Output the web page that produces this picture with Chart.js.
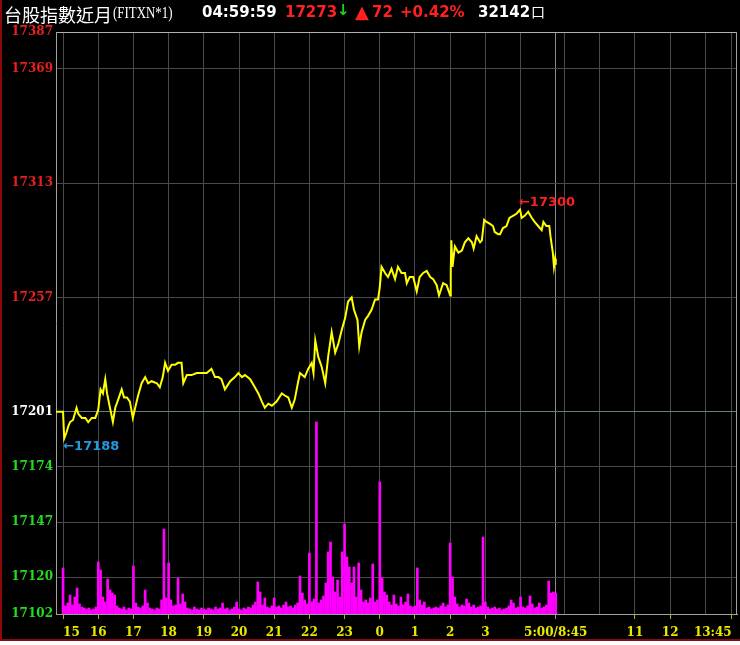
<!DOCTYPE html>
<html>
<head>
<meta charset="utf-8">
<script src="https://cdn.jsdelivr.net/npm/chart.js@4.4.0/dist/chart.umd.min.js"></script>
<style>
body{margin:0;background:#fff;}
#wrap{position:relative;width:740px;height:641px;background:#000;overflow:hidden;}
#wrap span{position:absolute;top:1px;line-height:22px;white-space:nowrap;}
.b{font:bold 15px "DejaVu Sans";}
.red{color:#ff2020;}
.wht{color:#fff;}
#bl{position:absolute;left:0;top:0;width:2px;height:641px;background:#8b0a0a;}
#bb{position:absolute;left:0;top:639px;width:740px;height:2px;background:#8b0a0a;}
</style>
</head>
<body>
<div id="wrap">
  <canvas id="myChart" width="740" height="640" style="position:absolute;left:0;top:0"></canvas>
  <span class="wht" style="left:4px;font:18px 'Noto Sans CJK TC'">台股指數近月</span>
  <span class="wht" style="left:113px;top:2px;font:17px/22px 'Liberation Serif';display:inline-block;transform:scaleX(.76);transform-origin:left">(FITXN*1)</span>
  <span class="b wht" style="left:202px">04:59:59</span>
  <span class="b red" style="left:285px">17273</span>
  <span style="left:337px;font:bold 15px 'DejaVu Sans';color:#1ed21e">↓</span>
  <span class="red" style="left:355px;font:18px 'DejaVu Sans'">▲</span>
  <span class="b red" style="left:372px">72</span>
  <span class="b red" style="left:400px">+0.42%</span>
  <span class="b wht" style="left:478px">32142</span>
  <span class="wht" style="left:531px;font:14px 'Noto Sans CJK TC'">口</span>
  <div id="bl"></div>
  <div id="bb"></div>
</div>
<script>
// minutes counted from 15:00 (night session), day session continues from 840 (= 5:00 / 8:45)
const priceMinutes = [-12,0,2,6,9,12,17,23,26,32,38,43,49,55,60,64,68,72,75,80,85,89,94,100,104,109,114,119,123,128,134,140,145,151,160,165,170,174,179,185,191,196,202,205,211,219,228,236,245,253,259,265,270,276,285,293,299,305,310,319,327,333,339,344,350,356,364,373,378,384,390,395,401,404,412,418,424,427,430,435,441,447,452,458,464,469,475,481,486,492,496,502,505,509,515,520,526,532,537,540,543,549,554,560,566,571,577,583,586,591,597,603,608,614,620,626,631,637,641,648,654,660,661,662,664,668,674,680,685,691,697,700,705,711,714,718,722,728,733,736,742,745,750,756,761,767,773,779,782,787,793,799,804,810,816,819,824,829,831,835,837,839,840]
const priceValues = [17201,17201,17188,17191,17194,17196,17197,17203,17200,17198,17198,17196,17198,17198,17202,17212,17210,17217,17210,17203,17196,17203,17207,17212,17208,17208,17206,17198,17203,17209,17215,17218,17215,17216,17215,17213,17218,17225,17221,17224,17224,17225,17225,17215,17219,17219,17220,17220,17220,17222,17218,17218,17217,17212,17216,17218,17220,17218,17219,17217,17213,17210,17206,17203,17205,17204,17206,17210,17209,17208,17203,17207,17216,17220,17218,17222,17225,17220,17236,17228,17223,17215,17228,17240,17230,17234,17241,17247,17255,17257,17251,17246,17233,17240,17246,17248,17251,17256,17256,17262,17272,17269,17267,17271,17266,17272,17269,17269,17264,17267,17267,17260,17267,17269,17270,17267,17266,17263,17258,17264,17263,17258,17270,17285,17272,17282,17279,17280,17284,17286,17284,17281,17287,17284,17285,17295,17294,17293,17292,17289,17288,17288,17291,17292,17296,17297,17298,17300,17296,17297,17299,17296,17294,17292,17290,17294,17292,17292,17287,17279,17272,17276,17273]

// contracts per 4-minute bar
const volumes = [230,40,55,95,45,85,130,50,35,30,
  25,30,20,25,35,260,220,85,60,175,
  120,105,95,40,30,25,35,20,30,25,
  240,55,35,30,40,120,55,30,25,20,
  30,25,70,425,80,255,70,40,45,180,
  50,100,60,30,25,20,35,25,20,30,
  25,20,30,25,20,35,25,30,55,25,
  30,20,25,35,60,25,20,30,25,35,
  30,45,60,160,110,45,80,35,30,40,
  80,35,40,30,45,60,35,40,30,45,
  55,190,105,70,50,305,60,75,960,55,
  70,90,155,310,360,185,110,170,85,310,
  450,285,235,155,235,85,255,120,60,70,
  55,80,250,60,70,660,180,110,95,60,
  45,95,50,40,85,45,60,100,40,35,
  40,230,70,45,60,30,35,25,30,35,
  30,40,55,35,45,355,185,85,50,35,
  45,40,75,55,35,45,30,35,40,385,
  60,35,25,30,35,25,30,20,25,30,
  40,70,55,30,35,85,35,30,40,90,
  50,30,35,55,30,35,45,165,105,110,105]
const volStep = 4

const refPrice = 17201
const yTicks = [17387,17369,17313,17257,17201,17174,17147,17120,17102]
const xTickMinutes = [0,60,120,180,240,300,360,420,480,540,600,660,720,780,840,855,915,975,1035,1095,1140]
const xTickLabels = ['15','16','17','18','19','20','21','22','23','0','1','2','3','','5:00/8:45','','','11','12','','13:45']

var extremes = {
    id: 'extremes',
    afterDatasetsDraw(chart){
        let ctx = chart.ctx
        let x = chart.scales.x, y = chart.scales.y
        let hi = 0, lo = 0
        for(let i=0;i<priceValues.length;i++){
            if(priceValues[i] > priceValues[hi]) hi = i
            if(priceValues[i] < priceValues[lo]) lo = i
        }
        ctx.save()
        ctx.font = 'bold 13px "DejaVu Sans"'
        ctx.textBaseline = 'middle'
        ctx.fillStyle = '#ff2020'
        ctx.fillText('←' + priceValues[hi], x.getPixelForValue(priceMinutes[hi]) - 1, y.getPixelForValue(priceValues[hi]) - 7)
        ctx.fillStyle = '#2299e0'
        ctx.fillText('←' + priceValues[lo], x.getPixelForValue(priceMinutes[lo]) - 1, y.getPixelForValue(priceValues[lo]) + 8)
        let a = chart.chartArea
        ctx.strokeStyle = '#a0a0a0'
        ctx.lineWidth = 1
        ctx.beginPath()
        ctx.moveTo(a.right - 0.5, a.top)
        ctx.lineTo(a.right - 0.5, a.bottom)
        ctx.stroke()
        ctx.restore()
    }
}

var ctx = document.getElementById('myChart').getContext('2d');
var myChart = new Chart(ctx, {
    type: 'bar',
    data: {
        datasets: [{
            type: 'line',
            label: 'TXF',
            data: priceMinutes.map((m,i)=>({x:m, y:priceValues[i]})),
            borderColor: '#ffff00',
            borderWidth: 2,
            pointRadius: 0,
            tension: 0,
            yAxisID: 'y',
            order: 1
        },{
            type: 'bar',
            label: 'Vol',
            data: volumes.map((v,i)=>({x:i*volStep, y:v})),
            backgroundColor: '#ff00ff',
            barThickness: 2,
            yAxisID: 'yv',
            order: 2
        }]
    },
    options: {
        responsive: false,
        animation: false,
        devicePixelRatio: 1,
        layout: {padding: {top:32, right:3, left:0, bottom:0}, autoPadding: false},
        plugins: {legend: {display:false}, tooltip: {enabled:false}},
        scales: {
            x: {
                type: 'linear',
                min: -12,
                max: 1149,
                offset: false,
                afterBuildTicks: s => { s.ticks = xTickMinutes.map(v => ({value:v})) },
                afterFit: s => { s.height = 26 },
                grid: {
                    offset: false,
                    color: c => (c.tick && c.tick.value == 840) ? '#8a8a8a' : '#4a4a4a',
                    tickLength: 5,
                    tickColor: c => {
                        let i = xTickMinutes.indexOf(c.tick.value)
                        return xTickLabels[i] ? (c.tick.value == 840 ? '#9a9a9a' : '#b8b800') : 'rgba(0,0,0,0)'
                    }
                },
                border: {color: '#a0a0a0'},
                ticks: {
                    autoSkip: false,
                    maxRotation: 0,
                    align: 'inner',
                    padding: 7,
                    color: '#e8e800',
                    font: {family: 'DejaVu Serif', weight: 'bold', size: 12},
                    callback: v => xTickLabels[xTickMinutes.indexOf(v)]
                }
            },
            y: {
                min: 17102,
                max: 17387,
                afterBuildTicks: s => { s.ticks = yTicks.map(v => ({value:v})) },
                afterFit: s => { s.width = 56 },
                grid: {
                    drawTicks: false,
                    color: c => c.tick.value == refPrice ? '#5e8080' : (c.tick.value == 17387 ? '#b0b0b0' : '#4a4a4a')
                },
                border: {color: '#a0a0a0'},
                ticks: {
                    padding: 3,
                    color: c => c.tick.value > refPrice ? '#e82020' : (c.tick.value == refPrice ? '#ffffff' : '#22dd22'),
                    font: {family: 'DejaVu Serif', weight: 'bold', size: 12},
                    callback: v => String(v)
                }
            },
            yv: {display: false, min: 0, max: 2910}
        }
    },
    plugins: [extremes]
});
</script>
</body>
</html>
